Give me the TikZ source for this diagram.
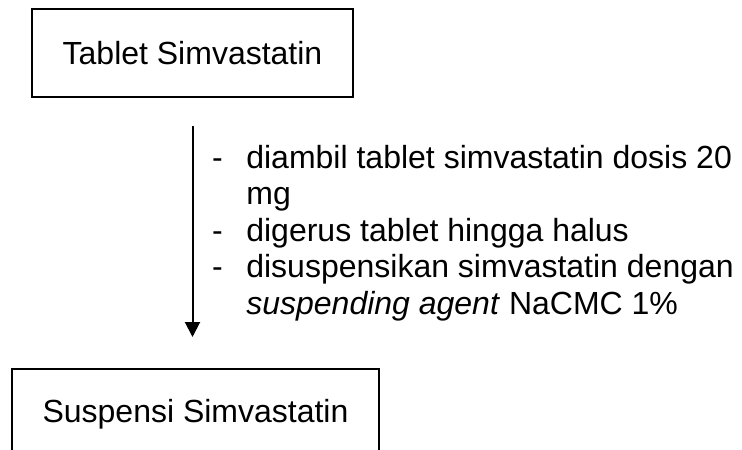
\documentclass[tikz,border=0pt]{standalone}
\usepackage{fontspec}
\setmainfont{Liberation Sans}
\usetikzlibrary{arrows.meta, positioning, calc}

\begin{document}
\begin{tikzpicture}[
	        x=1pt, y=-1pt,
	        font=\fontsize{32}{36.5}\selectfont,
	        stagebox/.style={
	            rectangle,
	            draw=black,
	            line width=2pt,
	            inner sep=0pt,
	            align=center
	        },
	        flow/.style={
	            -{Triangle[length=15pt, width=15pt]},
	            line width=2pt,
	            draw=black
	        },
	        steptext/.style={
	            inner sep=0pt,
	            anchor=base west
	        }
	    ]
	        \useasboundingbox (0,0) rectangle (742,450);
	        \node[stagebox, minimum width=321pt, minimum height=88pt] (tablet) at (192.5, 53) {Tablet Simvastatin};
	        \node[stagebox, minimum width=367pt, minimum height=90pt, anchor=north] (suspensi) at (195.5, 368) {Suspensi Simvastatin};
	        \node[steptext] (steps) at (212, 168) {\begin{tabular}[t]{@{}l@{\hspace{23.5pt}}l@{}}
	            - & diambil tablet simvastatin dosis 20\\
	              & mg\\
	            - & digerus tablet hingga halus\\
	            - & disuspensikan simvastatin dengan\\
	              & \textit{suspending agent} NaCMC 1\%
	        \end{tabular}};

	        \draw[flow, shorten <=28pt, shorten >=31pt] (tablet.south) -- (tablet.south |- suspensi.north);
	    \end{tikzpicture}
\end{document}
